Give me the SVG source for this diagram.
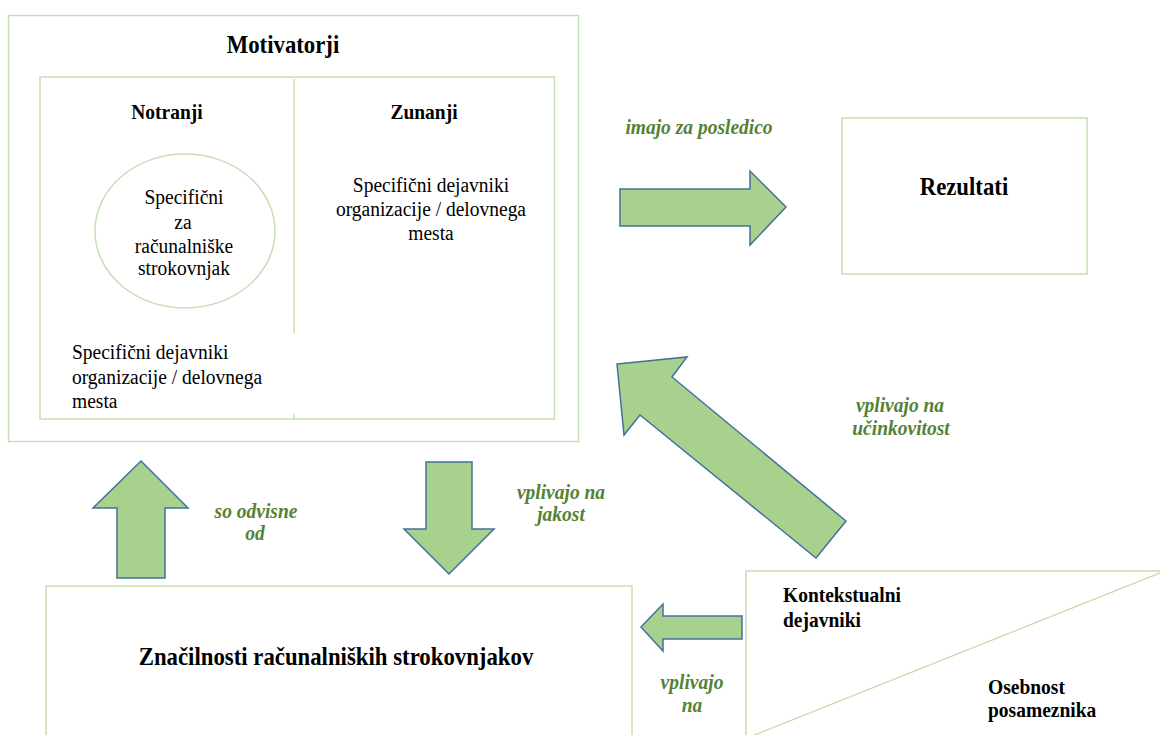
<svg xmlns="http://www.w3.org/2000/svg" width="1160" height="735" viewBox="0 0 1160 735">
<style>
.box{fill:#ffffff;stroke:#c5e0b4;stroke-width:1.5}
.arrow{fill:#a9d18e;stroke:#41719c;stroke-width:1.5;stroke-linejoin:miter}
text{font-family:"Liberation Serif","Times New Roman",serif;fill:#000;transform-box:fill-box;transform-origin:center;transform:scaleY(1.12)}
.t{font-size:19.5px}
.h{font-size:19.5px;font-weight:bold}
.H{font-size:22.8px;font-weight:bold}
.g{font-size:19.5px;font-weight:bold;font-style:italic;fill:#548235}
.c{text-anchor:middle}
</style>
<rect width="1160" height="735" fill="#ffffff"/>
<g id="motivatorji">
<rect class="box" x="8.5" y="15.5" width="570" height="426"/>
<text class="H c" x="283" y="52">Motivatorji</text>
<rect class="box" x="40" y="77" width="514.5" height="342"/>
<line x1="294" y1="79" x2="294" y2="333" stroke="#c5e0b4" stroke-width="1.5"/>
<line x1="294" y1="414" x2="294" y2="419" stroke="#c5e0b4" stroke-width="1.5"/>
<text class="h c" x="167" y="118">Notranji</text>
<text class="h c" x="424" y="118">Zunanji</text>
<text class="t c" x="431" y="191">Specifični dejavniki</text>
<text class="t c" x="431" y="215">organizacije / delovnega</text>
<text class="t c" x="431" y="239">mesta</text>
<text class="t" x="72" y="358">Specifični dejavniki</text>
<text class="t" x="72" y="383">organizacije / delovnega</text>
<text class="t" x="72" y="407">mesta</text>
</g>
<g id="specificni">
<ellipse cx="185" cy="231" rx="90" ry="77" fill="none" stroke="#c5e0b4" stroke-width="1.5"/>
<text class="t c" x="184" y="203">Specifični</text>
<text class="t c" x="183" y="228">za</text>
<text class="t c" x="184" y="252">računalniške</text>
<text class="t c" x="184" y="274">strokovnjak</text>
</g>
<g id="rezultati">
<rect class="box" x="842" y="118" width="245" height="156"/>
<text class="H c" x="964" y="194">Rezultati</text>
</g>
<g id="znacilnosti">
<rect class="box" x="46" y="586" width="586" height="160"/>
<text class="H c" x="336" y="664">Značilnosti računalniških strokovnjakov</text>
</g>
<g id="kontekst">
<rect class="box" x="746" y="571" width="430" height="180"/>
<line x1="752" y1="736" x2="1160" y2="573" stroke="#c5e0b4" stroke-width="1.5"/>
<text class="h" x="783" y="601">Kontekstualni</text>
<text class="h" x="783" y="626">dejavniki</text>
<text class="h" x="988" y="693">Osebnost</text>
<text class="h" x="988" y="716">posameznika</text>
</g>
<g id="connectors">
<polygon class="arrow" points="620,189 750,189 750,171 786,207 750,245 750,226 620,226"/>
<polygon class="arrow" points="617,364 687,357 672,377 846,521 816,558 640,415 624,435"/>
<polygon class="arrow" points="141,461 188,508 165,508 165,578 117,578 117,508 93,508"/>
<polygon class="arrow" points="426,462 472,462 472,529 494,529 449,574 404,529 426,529"/>
<polygon class="arrow" points="641,627 663,604 663,616 742,616 742,639 663,639 663,651"/>
<text class="g c" x="699" y="133">imajo za posledico</text>
<text class="g c" x="900" y="411">vplivajo na</text>
<text class="g c" x="901" y="434">učinkovitost</text>
<text class="g c" x="256" y="517">so odvisne</text>
<text class="g c" x="255" y="539">od</text>
<text class="g c" x="561" y="498">vplivajo na</text>
<text class="g c" x="561" y="520">jakost</text>
<text class="g c" x="692" y="688">vplivajo</text>
<text class="g c" x="692" y="711">na</text>
</g>
</svg>
